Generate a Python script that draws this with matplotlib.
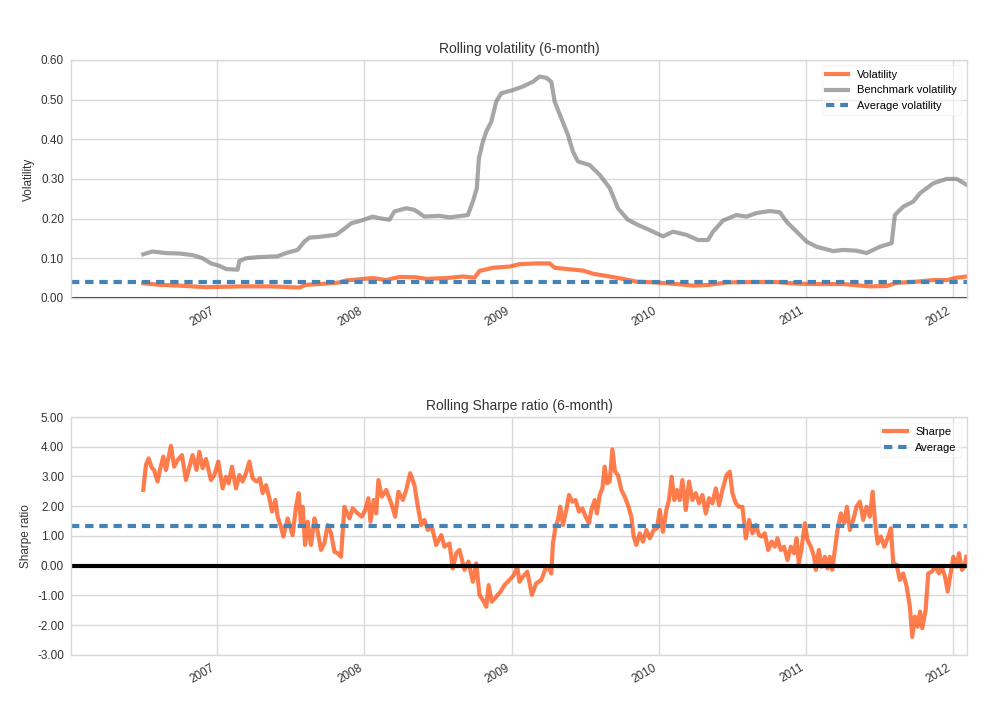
import matplotlib
matplotlib.use("Agg")
import matplotlib.pyplot as plt
import matplotlib.dates as mdates
from matplotlib.ticker import FormatStrFormatter
import numpy as np
import pandas as pd

plt.rcParams['font.family'] = ['Liberation Sans', 'DejaVu Sans']

#----------------------------------------------------------------------------------------#
# data (time in decimal years)

vol_t = [2006.497, 2006.605, 2006.741, 2006.923, 2007.150, 2007.376, 2007.558, 2007.603,
         2007.739, 2007.830, 2007.876, 2008.056, 2008.148, 2008.238, 2008.352, 2008.420,
         2008.556, 2008.669, 2008.748, 2008.782, 2008.873, 2008.986, 2009.054, 2009.168,
         2009.259, 2009.293, 2009.372, 2009.485, 2009.553, 2009.667, 2009.757, 2009.848,
         2009.984, 2010.120, 2010.233, 2010.347, 2010.461, 2010.619, 2010.801, 2010.937,
         2011.073, 2011.254, 2011.435, 2011.549, 2011.617, 2011.753, 2011.866, 2011.957,
         2012.025, 2012.093]
vol_v = [0.037, 0.033, 0.031, 0.027, 0.029, 0.029, 0.026, 0.033,
         0.036, 0.039, 0.044, 0.050, 0.045, 0.053, 0.052, 0.048,
         0.050, 0.054, 0.051, 0.068, 0.076, 0.079, 0.085, 0.087,
         0.087, 0.076, 0.073, 0.069, 0.061, 0.054, 0.048, 0.041,
         0.039, 0.035, 0.031, 0.033, 0.039, 0.040, 0.040, 0.036,
         0.035, 0.035, 0.029, 0.030, 0.038, 0.041, 0.045, 0.045,
         0.051, 0.054]

bench_t = [2006.497, 2006.560, 2006.651, 2006.741, 2006.832, 2006.900, 2006.957, 2007.014,
           2007.059, 2007.138, 2007.150, 2007.195, 2007.286, 2007.410, 2007.467, 2007.546,
           2007.592, 2007.626, 2007.694, 2007.807, 2007.852, 2007.910, 2007.988, 2008.056,
           2008.102, 2008.170, 2008.204, 2008.284, 2008.340, 2008.408, 2008.510, 2008.578,
           2008.703, 2008.737, 2008.764, 2008.778, 2008.805, 2008.828, 2008.862, 2008.896,
           2008.930, 2009.009, 2009.077, 2009.145, 2009.190, 2009.236, 2009.270, 2009.293,
           2009.338, 2009.383, 2009.417, 2009.451, 2009.531, 2009.599, 2009.667, 2009.723,
           2009.791, 2009.859, 2009.939, 2010.029, 2010.097, 2010.188, 2010.267, 2010.335,
           2010.369, 2010.437, 2010.528, 2010.597, 2010.665, 2010.755, 2010.823, 2010.869,
           2010.937, 2011.005, 2011.073, 2011.186, 2011.254, 2011.345, 2011.413, 2011.503,
           2011.583, 2011.605, 2011.662, 2011.730, 2011.776, 2011.866, 2011.957, 2012.025,
           2012.093]
bench_v = [0.110, 0.117, 0.113, 0.112, 0.108, 0.100, 0.087, 0.081,
           0.073, 0.071, 0.093, 0.100, 0.103, 0.105, 0.113, 0.121,
           0.142, 0.152, 0.154, 0.159, 0.171, 0.188, 0.196, 0.205,
           0.201, 0.197, 0.218, 0.226, 0.222, 0.205, 0.207, 0.203,
           0.209, 0.243, 0.277, 0.352, 0.394, 0.419, 0.444, 0.495,
           0.516, 0.524, 0.533, 0.545, 0.558, 0.555, 0.545, 0.495,
           0.453, 0.411, 0.369, 0.344, 0.335, 0.310, 0.277, 0.226,
           0.197, 0.184, 0.171, 0.155, 0.167, 0.159, 0.146, 0.146,
           0.167, 0.195, 0.209, 0.205, 0.214, 0.219, 0.216, 0.192,
           0.167, 0.142, 0.129, 0.118, 0.121, 0.119, 0.113, 0.129,
           0.138, 0.209, 0.230, 0.243, 0.264, 0.289, 0.300, 0.300,
           0.285]

vol_avg = 0.041

sharpe_t = [2006.497, 2006.515, 2006.533, 2006.556, 2006.571, 2006.594, 2006.610, 2006.633,
            2006.651, 2006.685, 2006.707, 2006.730, 2006.760, 2006.787, 2006.805, 2006.832,
            2006.859, 2006.878, 2006.900, 2006.923, 2006.957, 2006.980, 2007.007, 2007.036,
            2007.059, 2007.077, 2007.100, 2007.127, 2007.150, 2007.172, 2007.195, 2007.218,
            2007.240, 2007.267, 2007.290, 2007.308, 2007.331, 2007.354, 2007.372, 2007.395,
            2007.410, 2007.433, 2007.449, 2007.478, 2007.512, 2007.535, 2007.553, 2007.569,
            2007.580, 2007.597, 2007.614, 2007.637, 2007.660, 2007.676, 2007.705, 2007.728,
            2007.750, 2007.773, 2007.796, 2007.818, 2007.841, 2007.864, 2007.898, 2007.920,
            2007.954, 2007.982, 2008.005, 2008.027, 2008.041, 2008.063, 2008.080, 2008.095,
            2008.118, 2008.148, 2008.182, 2008.209, 2008.231, 2008.261, 2008.284, 2008.311,
            2008.340, 2008.363, 2008.386, 2008.408, 2008.431, 2008.458, 2008.488, 2008.522,
            2008.544, 2008.578, 2008.601, 2008.624, 2008.646, 2008.680, 2008.707, 2008.737,
            2008.760, 2008.782, 2008.812, 2008.828, 2008.844, 2008.866, 2008.896, 2008.925,
            2008.952, 2008.986, 2009.016, 2009.039, 2009.054, 2009.077, 2009.107, 2009.138,
            2009.168, 2009.202, 2009.236, 2009.259, 2009.270, 2009.281, 2009.299, 2009.315,
            2009.331, 2009.349, 2009.372, 2009.390, 2009.413, 2009.435, 2009.458, 2009.481,
            2009.503, 2009.526, 2009.542, 2009.565, 2009.580, 2009.599, 2009.617, 2009.633,
            2009.648, 2009.667, 2009.685, 2009.703, 2009.723, 2009.746, 2009.769, 2009.791,
            2009.814, 2009.830, 2009.848, 2009.871, 2009.893, 2009.916, 2009.939, 2009.966,
            2009.988, 2010.007, 2010.029, 2010.052, 2010.070, 2010.088, 2010.106, 2010.124,
            2010.143, 2010.161, 2010.184, 2010.206, 2010.229, 2010.252, 2010.274, 2010.297,
            2010.320, 2010.342, 2010.365, 2010.388, 2010.410, 2010.433, 2010.461, 2010.483,
            2010.501, 2010.524, 2010.546, 2010.569, 2010.592, 2010.614, 2010.637, 2010.660,
            2010.682, 2010.699, 2010.721, 2010.744, 2010.767, 2010.789, 2010.807, 2010.830,
            2010.852, 2010.875, 2010.898, 2010.920, 2010.937, 2010.952, 2010.971, 2010.993,
            2011.011, 2011.034, 2011.056, 2011.068, 2011.088, 2011.107, 2011.129, 2011.147,
            2011.163, 2011.179, 2011.197, 2011.215, 2011.238, 2011.261, 2011.279, 2011.299,
            2011.322, 2011.344, 2011.367, 2011.390, 2011.412, 2011.435, 2011.454, 2011.469,
            2011.488, 2011.510, 2011.533, 2011.556, 2011.578, 2011.594, 2011.617, 2011.639,
            2011.662, 2011.685, 2011.707, 2011.723, 2011.741, 2011.760, 2011.776, 2011.791,
            2011.814, 2011.832, 2011.855, 2011.882, 2011.905, 2011.923, 2011.946, 2011.964,
            2011.980, 2012.002, 2012.025, 2012.041, 2012.061, 2012.078, 2012.090]
sharpe_v = [2.55, 3.39, 3.61, 3.28, 3.22, 2.83, 3.22, 3.67,
            3.22, 4.03, 3.33, 3.55, 3.72, 2.88, 3.22, 3.72,
            3.22, 3.83, 3.28, 3.59, 2.88, 3.05, 3.50, 2.60,
            2.99, 2.77, 3.33, 2.60, 3.05, 2.83, 3.11, 3.50,
            2.94, 2.83, 2.94, 2.44, 2.71, 2.27, 1.82, 2.21,
            1.65, 1.31, 0.98, 1.59, 1.03, 1.98, 2.44, 1.37,
            1.98, 0.70, 1.48, 0.70, 1.59, 1.31, 0.53, 0.75,
            1.37, 1.09, 0.47, 0.42, 0.30, 1.98, 1.59, 1.93,
            1.76, 1.65, 1.87, 2.27, 1.48, 2.21, 1.76, 2.88,
            2.32, 2.55, 2.10, 1.65, 2.49, 2.21, 2.55, 3.11,
            2.71, 1.98, 1.37, 1.54, 1.20, 1.31, 0.70, 1.03,
            0.64, 0.75, -0.09, 0.42, 0.53, -0.14, 0.14, -0.54,
            0.08, -0.98, -1.21, -1.38, -0.65, -1.21, -1.04, -0.87,
            -0.65, -0.48, -0.31, -0.03, -0.54, -0.37, -0.20, -0.98,
            -0.59, -0.48, -0.03, -0.14, -0.26, 0.75, 1.31, 1.54,
            1.98, 1.37, 1.87, 2.38, 2.15, 2.21, 1.82, 1.93,
            1.65, 1.43, 1.87, 2.21, 1.76, 2.38, 2.60, 3.33,
            2.77, 2.83, 3.91, 3.16, 3.05, 2.55, 2.32, 2.04,
            1.65, 0.98, 0.70, 1.09, 0.81, 1.20, 0.92, 1.20,
            1.26, 1.87, 1.14, 1.87, 2.21, 2.99, 2.21, 2.55,
            2.21, 2.88, 1.87, 2.83, 2.21, 2.44, 2.10, 2.38,
            1.76, 2.27, 2.10, 2.60, 2.04, 2.55, 3.05, 3.16,
            2.44, 2.10, 1.98, 1.98, 0.92, 1.54, 1.09, 1.37,
            1.03, 0.98, 1.09, 0.53, 0.81, 0.64, 0.92, 0.53,
            0.64, 0.19, 0.64, 0.42, 0.92, 0.08, 0.59, 1.43,
            0.87, 0.64, 0.30, -0.14, 0.53, -0.03, 0.30, -0.09,
            0.30, -0.14, 0.53, 1.20, 1.76, 1.43, 1.98, 1.20,
            1.54, 1.98, 2.15, 1.54, 1.98, 1.65, 2.49, 1.54,
            0.75, 0.98, 0.64, 0.92, 1.26, 0.08, 0.03, -0.48,
            -0.26, -0.70, -1.38, -2.39, -1.71, -2.05, -1.54, -2.10,
            -1.49, -0.26, -0.20, -0.03, -0.26, -0.03, -0.37, -0.87,
            -0.37, 0.30, -0.03, 0.42, -0.14, -0.03, 0.30]

sharpe_avg = 1.35

x_start = 2006.006
x_end = 2012.095


def to_dates(years):
    years = np.asarray(years, dtype=float)
    base = pd.Timestamp('2006-01-01')
    return base + pd.to_timedelta((years - 2006.0) * 365.25, unit='D')


#----------------------------------------------------------------------------------------#
# figure

fig = plt.figure(figsize=(10.06, 7.11), dpi=100)
ax1 = fig.add_axes([0.0706, 0.581, 0.8906, 0.3347])
ax2 = fig.add_axes([0.0706, 0.0788, 0.8906, 0.3347])

grid_color = '#d9d9d9'
text_color = '#333333'
avg_dash = (2.0, 1.4)

for ax in (ax1, ax2):
    ax.set_facecolor('white')
    ax.grid(True, color=grid_color, linewidth=1.0)
    ax.set_axisbelow(True)
    for s in ax.spines.values():
        s.set_color(grid_color)
        s.set_linewidth(1.0)
    ax.tick_params(axis='both', length=0, labelsize=8.5, colors=text_color, pad=5)
    ax.xaxis.set_major_locator(mdates.YearLocator())
    ax.xaxis.set_major_formatter(mdates.DateFormatter('%Y'))
    ax.set_xlim(to_dates([x_start])[0], to_dates([x_end])[0])
    ax.yaxis.set_major_formatter(FormatStrFormatter('%.2f'))

# top: rolling volatility
ax1.plot(to_dates(vol_t), vol_v, color='orangered', alpha=0.7, lw=3, label='Volatility')
ax1.plot(to_dates(bench_t), bench_v, color='grey', alpha=0.7, lw=3, label='Benchmark volatility')
ax1.axhline(vol_avg, color='steelblue', linestyle=(0, avg_dash), lw=3, label='Average volatility')
ax1.axhline(0.0, color='#333333', linestyle='-', lw=1.5)
ax1.set_ylim(0, 0.6)
ax1.set_yticks(np.arange(0, 0.61, 0.1))
ax1.set_title('Rolling volatility (6-month)', fontsize=10, color=text_color, pad=5)
ax1.set_ylabel('Volatility', fontsize=8.5, color=text_color)
leg1 = ax1.legend(loc='upper right', fontsize=8, frameon=True, framealpha=0.5)
leg1.get_frame().set_edgecolor('#eeeeee')

# bottom: rolling sharpe
ax2.plot(to_dates(sharpe_t), sharpe_v, color='orangered', alpha=0.7, lw=3, label='Sharpe')
ax2.axhline(sharpe_avg, color='steelblue', linestyle=(0, avg_dash), lw=3, label='Average')
ax2.axhline(0.0, color='black', linestyle='-', lw=3)
ax2.set_ylim(-3, 5)
ax2.set_yticks(np.arange(-3, 5.1, 1))
ax2.set_title('Rolling Sharpe ratio (6-month)', fontsize=10, color=text_color, pad=5)
ax2.set_ylabel('Sharpe ratio', fontsize=8.5, color=text_color)
leg2 = ax2.legend(loc='upper right', fontsize=8, frameon=True, framealpha=0.5)
leg2.get_frame().set_edgecolor('#eeeeee')

for ax in (ax1, ax2):
    for lbl in ax.get_xticklabels():
        lbl.set_rotation(30)
        lbl.set_ha('right')

plt.savefig('out.png', dpi=100)
